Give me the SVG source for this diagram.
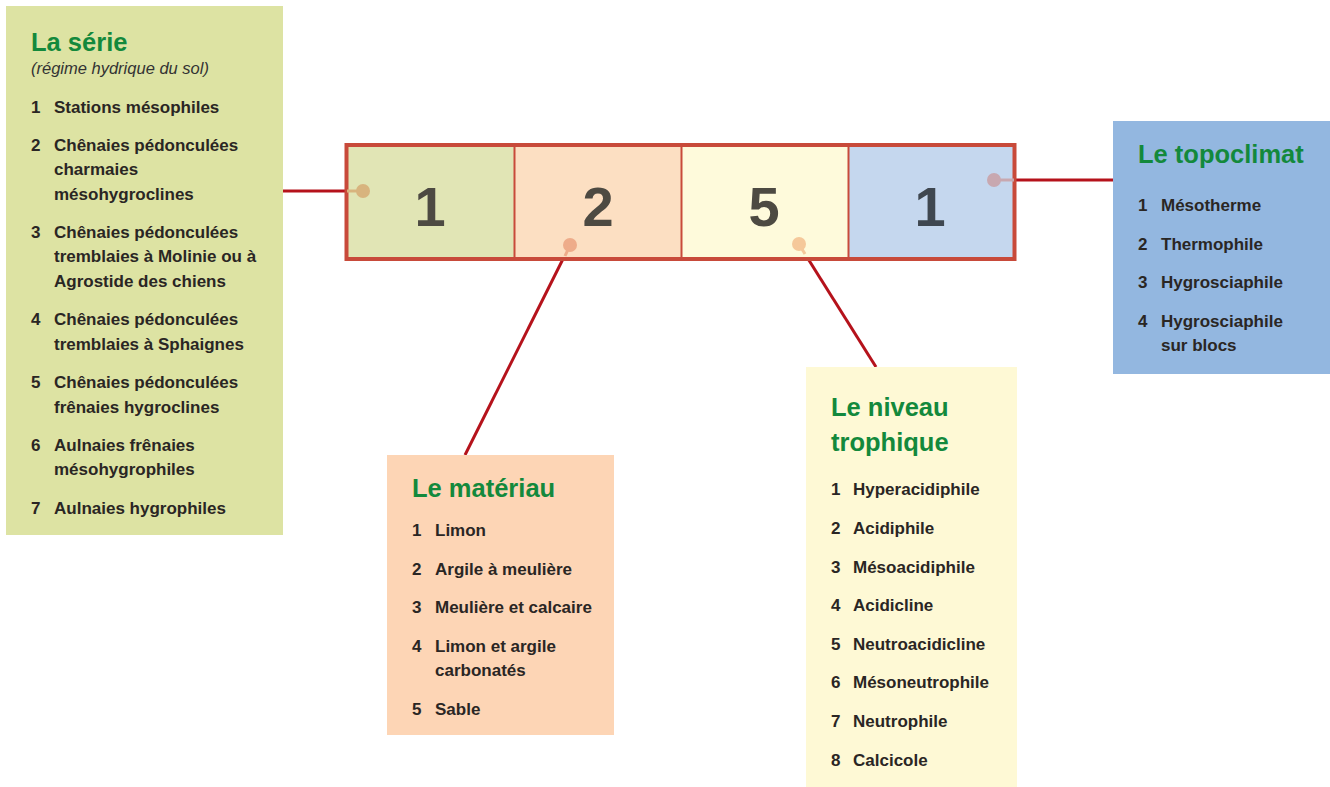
<svg xmlns="http://www.w3.org/2000/svg" width="1330" height="787" viewBox="0 0 1330 787">
<style>
.t{font-family:"Liberation Sans",Arial,sans-serif;font-weight:bold;font-size:25.5px;fill:#13893c}
.s{font-family:"Liberation Sans",Arial,sans-serif;font-style:italic;font-size:16.5px;fill:#333}
.i{font-family:"Liberation Sans",Arial,sans-serif;font-weight:bold;font-size:17px;fill:#2a2624}
.n{font-family:"Liberation Sans",Arial,sans-serif;font-weight:bold;font-size:56px;fill:#4d4a42;text-anchor:middle}
.c{stroke:#b5121b;stroke-width:3;fill:none}
</style>
<rect width="1330" height="787" fill="#fff"/>
<g id="connectors">
<line class="c" x1="283" y1="191" x2="347" y2="191"/>
<line class="c" x1="1012" y1="180" x2="1113" y2="180"/>
<line class="c" x1="565" y1="255" x2="465" y2="455"/>
<line class="c" x1="805" y1="254" x2="876" y2="367"/>
</g>
<g id="serie">
<rect x="6" y="6" width="277" height="529" fill="#dde3a3"/>
<text class="t" x="31" y="51">La série</text>
<text class="s" x="31" y="74">(régime hydrique du sol)</text>
<text class="i" x="31" y="113">1</text><text class="i" x="54" y="113">Stations mésophiles</text>
<text class="i" x="31" y="151">2</text><text class="i" x="54" y="151">Chênaies pédonculées</text>
<text class="i" x="54" y="175">charmaies</text>
<text class="i" x="54" y="200">mésohygroclines</text>
<text class="i" x="31" y="238">3</text><text class="i" x="54" y="238">Chênaies pédonculées</text>
<text class="i" x="54" y="262">tremblaies à Molinie ou à</text>
<text class="i" x="54" y="287">Agrostide des chiens</text>
<text class="i" x="31" y="325">4</text><text class="i" x="54" y="325">Chênaies pédonculées</text>
<text class="i" x="54" y="350">tremblaies à Sphaignes</text>
<text class="i" x="31" y="388">5</text><text class="i" x="54" y="388">Chênaies pédonculées</text>
<text class="i" x="54" y="413">frênaies hygroclines</text>
<text class="i" x="31" y="451">6</text><text class="i" x="54" y="451">Aulnaies frênaies</text>
<text class="i" x="54" y="475">mésohygrophiles</text>
<text class="i" x="31" y="514">7</text><text class="i" x="54" y="514">Aulnaies hygrophiles</text>
</g>
<g id="code">
<rect x="347" y="145" width="167" height="114" fill="#e1e5b5"/>
<rect x="514" y="145" width="167" height="114" fill="#fcdfc2"/>
<rect x="681" y="145" width="167" height="114" fill="#fefadb"/>
<rect x="848" y="145" width="166" height="114" fill="#c5d7ee"/>
<line x1="514.5" y1="145" x2="514.5" y2="259" stroke="#c84a3a" stroke-width="2"/>
<line x1="681.5" y1="145" x2="681.5" y2="259" stroke="#c84a3a" stroke-width="2"/>
<line x1="848.5" y1="145" x2="848.5" y2="259" stroke="#c84a3a" stroke-width="2"/>
<rect x="346.5" y="145" width="668" height="114" fill="none" stroke="#c84a3a" stroke-width="4"/>
<text class="n" x="430" y="226">1</text>
<text class="n" x="598" y="226">2</text>
<text class="n" x="764" y="226">5</text>
<text class="n" x="930" y="226" style="fill:#3f4750">1</text>
<line x1="347" y1="191" x2="363" y2="191" stroke="#d8b47e" stroke-width="3"/>
<circle cx="363" cy="191" r="7" fill="#d8b47e"/>
<line x1="570" y1="245" x2="565" y2="256" stroke="#eeac8a" stroke-width="3"/>
<circle cx="570" cy="245" r="7" fill="#eeac8a"/>
<line x1="799" y1="244" x2="805" y2="254" stroke="#f5c89a" stroke-width="3"/>
<circle cx="799" cy="244" r="7" fill="#f5c89a"/>
<line x1="994" y1="180" x2="1014" y2="180" stroke="#c8a8b0" stroke-width="3"/>
<circle cx="994" cy="180" r="7" fill="#c8a8b0"/>
</g>
<g id="topoclimat">
<rect x="1113" y="121" width="217" height="253" fill="#93b7e0"/>
<text class="t" x="1138" y="163">Le topoclimat</text>
<text class="i" x="1138" y="211">1</text><text class="i" x="1161" y="211">Mésotherme</text>
<text class="i" x="1138" y="250">2</text><text class="i" x="1161" y="250">Thermophile</text>
<text class="i" x="1138" y="288">3</text><text class="i" x="1161" y="288">Hygrosciaphile</text>
<text class="i" x="1138" y="327">4</text><text class="i" x="1161" y="327">Hygrosciaphile</text>
<text class="i" x="1161" y="351">sur blocs</text>
</g>
<g id="materiau">
<rect x="387" y="455" width="227" height="280" fill="#fdd5b5"/>
<text class="t" x="412" y="497">Le matériau</text>
<text class="i" x="412" y="536">1</text><text class="i" x="435" y="536">Limon</text>
<text class="i" x="412" y="575">2</text><text class="i" x="435" y="575">Argile à meulière</text>
<text class="i" x="412" y="613">3</text><text class="i" x="435" y="613">Meulière et calcaire</text>
<text class="i" x="412" y="652">4</text><text class="i" x="435" y="652">Limon et argile</text>
<text class="i" x="435" y="676">carbonatés</text>
<text class="i" x="412" y="715">5</text><text class="i" x="435" y="715">Sable</text>
</g>
<g id="trophique">
<rect x="806" y="367" width="211" height="420" fill="#fef9d5"/>
<text class="t" x="831" y="416">Le niveau</text>
<text class="t" x="831" y="451">trophique</text>
<text class="i" x="831" y="495">1</text><text class="i" x="853" y="495">Hyperacidiphile</text>
<text class="i" x="831" y="534">2</text><text class="i" x="853" y="534">Acidiphile</text>
<text class="i" x="831" y="573">3</text><text class="i" x="853" y="573">Mésoacidiphile</text>
<text class="i" x="831" y="611">4</text><text class="i" x="853" y="611">Acidicline</text>
<text class="i" x="831" y="650">5</text><text class="i" x="853" y="650">Neutroacidicline</text>
<text class="i" x="831" y="688">6</text><text class="i" x="853" y="688">Mésoneutrophile</text>
<text class="i" x="831" y="727">7</text><text class="i" x="853" y="727">Neutrophile</text>
<text class="i" x="831" y="766">8</text><text class="i" x="853" y="766">Calcicole</text>
</g>
</svg>
